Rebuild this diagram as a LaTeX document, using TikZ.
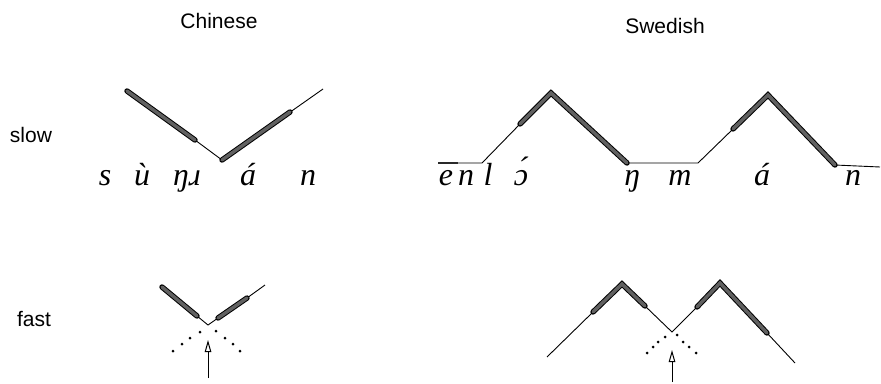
\documentclass[tikz,border=0pt]{standalone}
\usepackage{fontspec}
\setmainfont{Liberation Sans}
\newfontfamily\hand{Liberation Serif}[ItalicFont={Liberation Serif Italic}]
\usetikzlibrary{arrows.meta,calc}
\begin{document}
\begin{tikzpicture}[x=1pt,y=-1pt,
  thin/.style={line width=0.9pt},
  band/.style={line width=1pt, double=black!62, double distance=3.4pt, line cap=round},
  dot/.style={circle, fill=black, inner sep=0pt, minimum size=3pt},
  lab/.style={font=\fontsize{21}{24}\selectfont, inner sep=0pt, anchor=base},
  hw/.style={font=\hand\itshape\fontsize{32}{34}\selectfont, inner sep=0pt, anchor=base},
  arr/.style={line width=0.9pt, -{Triangle[open,length=12pt,width=6.5pt,line width=1pt]}}]
\useasboundingbox (0,0) rectangle (881,383);

% labels
\node[lab] (chi) at (219,28) {Chinese};
\node[lab] (swe) at (665,33) {Swedish};
\node[lab] (slow) at (31,142) {slow};
\node[lab] (fast) at (34,326) {fast};

% ---------- Chinese slow ----------
\coordinate (A1) at (127,91);
\coordinate (A2) at (195,140);
\coordinate (AV) at (222,160);
\coordinate (A3) at (290,112);
\coordinate (A4) at (323,89);
\draw[thin] (A2) -- (AV) -- (A4);
\draw[band] (A1) -- (A2);
\draw[band] (AV) -- (A3);

\node[hw] (c1) at (105,185) {s};
\node[hw] (c2) at (142,185) {ù};
\node[hw] (c3) at (187,185) {ŋɹ};
\node[hw] (c4) at (248,185) {á};
\node[hw] (c5) at (308,185) {n};

% ---------- Swedish slow ----------
\coordinate (S0) at (438,163);
\coordinate (S1) at (482,163);
\coordinate (S2) at (520,124);
\coordinate (P1) at (551,93);
\coordinate (S3) at (627,163);
\coordinate (S4) at (698,163);
\coordinate (S5) at (733,129);
\coordinate (P2) at (768,95);
\coordinate (S6) at (835,165);
\coordinate (S7) at (880,167);
\draw[line width=1.8pt, black!75] (S0) -- ($(S0)!0.45!(S1)$);
\draw[thin] (S0) -- (S1) -- (S2);
\draw[thin] (S3) -- (S4) -- (S5);
\draw[thin] (S6) -- (S7);
\draw[band] (S2) -- (P1) -- (S3);
\draw[band] (S5) -- (P2) -- (S6);

\node[hw] (w1) at (446,185) {e};
\node[hw] (w2) at (466,185) {n};
\node[hw] (w3) at (488,185) {l};
\node[hw] (w4) at (521,185) {ɔ́};
\node[hw] (w5) at (632,185) {ŋ};
\node[hw] (w6) at (680,185) {m};
\node[hw] (w7) at (762,185) {á};
\node[hw] (w8) at (853,185) {n};

% ---------- Chinese fast ----------
\coordinate (F1) at (162,287);
\coordinate (F2) at (197,316);
\coordinate (FV) at (208,325);
\coordinate (F3) at (218,318);
\coordinate (F4) at (247,298);
\coordinate (F5) at (265,285);
\draw[thin] (F2) -- (FV) -- (F3);
\draw[thin] (F4) -- (F5);
\draw[band] (F1) -- (F2);
\draw[band] (F3) -- (F4);
\foreach \p [count=\i] in {(200,332),(190,338),(182,344),(173,351),(216,331),(225,338),(233,344),(240,351)}
  \node[dot] (cd\i) at \p {};
\coordinate (CA0) at (208,378);
\coordinate (CA1) at (208,340);
\draw[arr] (CA0) -- (CA1);

% ---------- Swedish fast ----------
\coordinate (G0) at (547,357);
\coordinate (G1) at (593,312);
\coordinate (GP1) at (622,284);
\coordinate (G2) at (645,306);
\coordinate (GV) at (672,332);
\coordinate (G3) at (697,307);
\coordinate (GP2) at (720,283);
\coordinate (G4) at (767,333);
\coordinate (G5) at (795,363);
\draw[thin] (G0) -- (G1);
\draw[thin] (G2) -- (GV) -- (G3);
\draw[thin] (G4) -- (G5);
\draw[band] (G1) -- (GP1) -- (G2);
\draw[band] (G3) -- (GP2) -- (G4);
\foreach \p [count=\i] in {(665,337),(658,342),(653,347),(647,353),(677,335),(683,342),(689,347),(696,353)}
  \node[dot] (sd\i) at \p {};
\coordinate (SA0) at (672,382);
\coordinate (SA1) at (672,350);
\draw[arr] (SA0) -- (SA1);
\end{tikzpicture}
\end{document}
